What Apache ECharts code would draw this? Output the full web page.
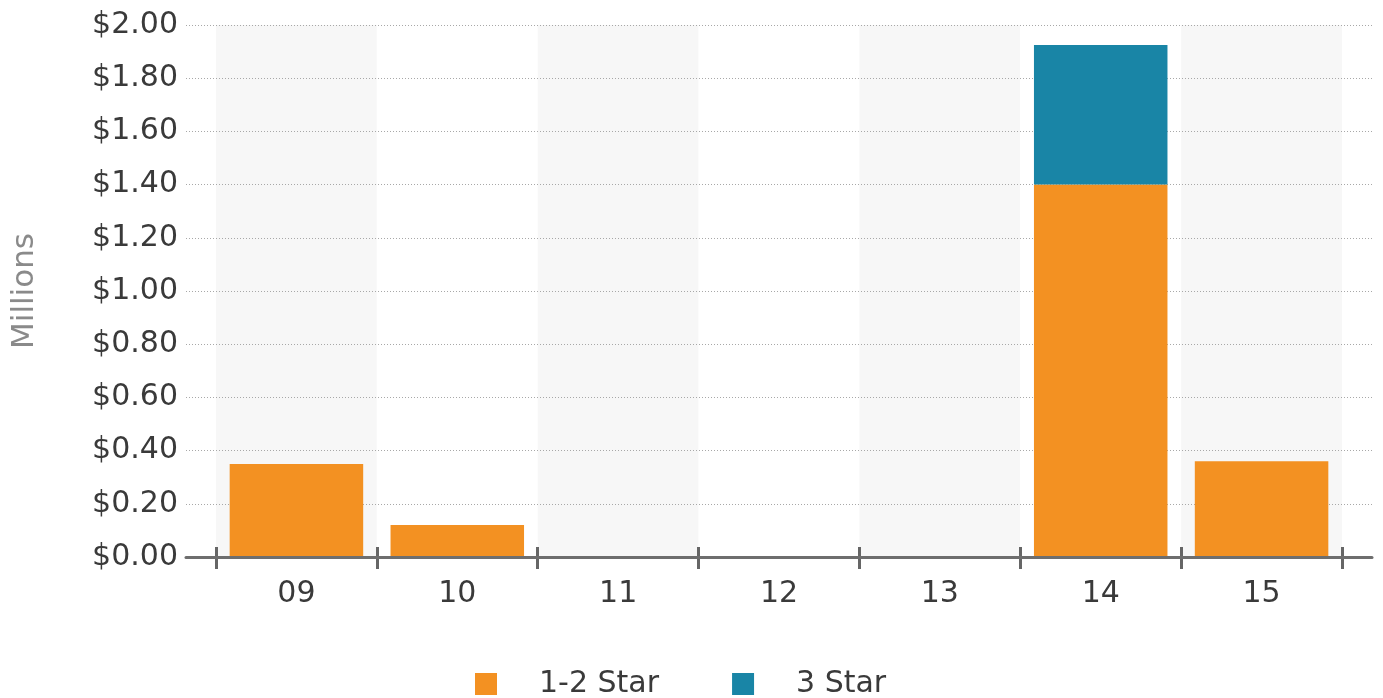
<!DOCTYPE html>
<html>
<head>
<meta charset="utf-8">
<script src="https://cdn.jsdelivr.net/npm/echarts@6/dist/echarts.min.js"></script>
<style>html,body{margin:0;padding:0;background:#fff}#c{width:1383px;height:698px}</style>
</head>
<body>
<div id="c"></div>
<script>
var categories = ['09','10','11','12','13','14','15'];
var star12 = [0.35, 0.12, 0, 0, 0, 1.40, 0.36];
var star3 = [0, 0, 0, 0, 0, 0.525, 0];
var seriesNames = ['1-2 Star', '3 Star'];
var yTicks = { min: 0, max: 2, interval: 0.2 };
var yAxisName = 'Millions';

var FONT = 'DejaVu Sans';
var chart = echarts.init(document.getElementById('c'), null, { renderer: 'canvas' });
var option = {
  animation: false,
  backgroundColor: '#ffffff',
  textStyle: { fontFamily: FONT },
  grid: [
    { left: 216, right: 41, top: 25, bottom: 141 },
    { left: 186, right: 11, top: 25, bottom: 141 }
  ],
  legend: {
    left: 470, top: 664,
    itemWidth: 22, itemHeight: 22, itemGap: 73,
    icon: 'rect',
    textStyle: { fontFamily: FONT, fontSize: 30, color: '#3a3a3a', padding: [0, 0, 0, 37] },
    data: seriesNames
  },
  xAxis: [
    {
      gridIndex: 0, type: 'category', data: categories, z: 0,
      axisLine: { show: false },
      axisTick: { show: true, length: 12, lineStyle: { color: '#666666', width: 3 } },
      axisLabel: { fontFamily: FONT, fontSize: 30, color: '#3a3a3a', margin: 22 },
      splitArea: { show: true, areaStyle: { color: ['#f7f7f7', '#ffffff'] } },
      splitLine: { show: false }
    },
    {
      gridIndex: 0, type: 'category', data: categories, position: 'bottom', z: 4,
      axisLine: { show: false },
      axisTick: { show: true, inside: true, length: 10, lineStyle: { color: '#666666', width: 3 } },
      axisLabel: { show: false },
      splitLine: { show: false }
    },
    {
      gridIndex: 1, type: 'category', data: [''], position: 'bottom', z: 5,
      axisLine: { show: true, lineStyle: { color: '#6e6e6e', width: 3 } },
      axisTick: { show: false },
      axisLabel: { show: false },
      splitLine: { show: false }
    }
  ],
  yAxis: [
    {
      gridIndex: 0, type: 'value', min: yTicks.min, max: yTicks.max, interval: yTicks.interval,
      axisLine: { show: false }, axisTick: { show: false }, axisLabel: { show: false },
      splitLine: { show: false }
    },
    {
      gridIndex: 1, type: 'value', min: yTicks.min, max: yTicks.max, interval: yTicks.interval, z: 1,
      name: yAxisName, nameLocation: 'middle', nameGap: 146,
      nameTextStyle: { fontFamily: FONT, fontSize: 31, color: '#8a8a8a' },
      axisLine: { show: false }, axisTick: { show: false },
      axisLabel: {
        fontFamily: FONT, fontSize: 30, color: '#3a3a3a', margin: 8,
        formatter: function (v) { return '$' + v.toFixed(2); }
      },
      splitLine: { show: true, lineStyle: { color: '#a8a8a8', width: 1, type: [1, 2] } }
    }
  ],
  series: [
    {
      name: seriesNames[0], type: 'bar', stack: 'total', xAxisIndex: 0, yAxisIndex: 0,
      barWidth: '83%', z: 2,
      itemStyle: { color: '#f39122' },
      data: star12
    },
    {
      name: seriesNames[1], type: 'bar', stack: 'total', xAxisIndex: 0, yAxisIndex: 0,
      barWidth: '83%', z: 2,
      itemStyle: { color: '#1985a6' },
      data: star3
    }
  ]
};
chart.setOption(option);
</script>
</body>
</html>
